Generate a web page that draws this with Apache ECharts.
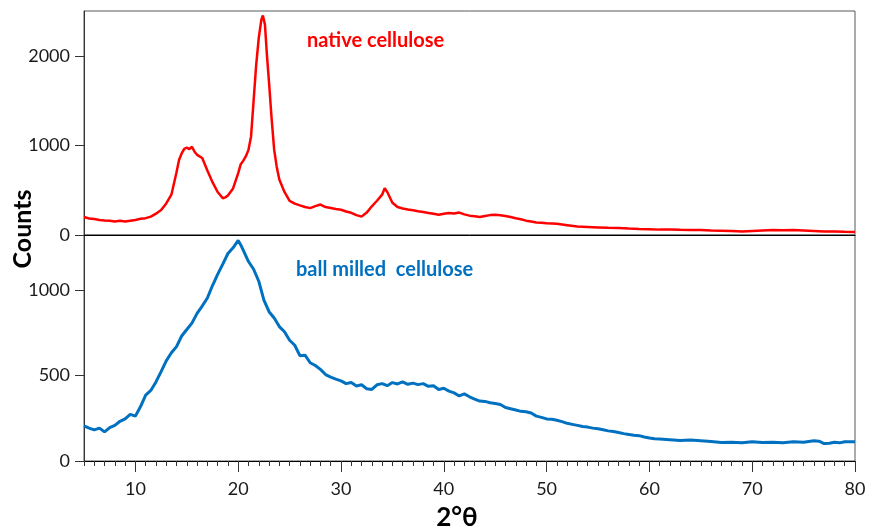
<!DOCTYPE html>
<html>
<head>
<meta charset="utf-8">
<script src="https://cdn.jsdelivr.net/npm/echarts@6/dist/echarts.min.js"></script>
<style>html,body{margin:0;padding:0;background:#fff;}#c{width:875px;height:531px;}</style>
</head>
<body>
<div id="c"></div>
<script>
var nativeX = [5.0,5.5,6.0,6.5,7.0,7.5,8.0,8.5,9.0,9.5,10.0,10.5,11.0,11.5,12.0,12.5,13.0,13.5,14.0,14.25,14.5,14.75,15.0,15.25,15.5,15.75,16.0,16.5,17.0,17.5,18.0,18.5,18.75,19.0,19.5,20.0,20.25,20.5,20.75,21.0,21.25,21.5,21.75,22.0,22.25,22.4,22.6,22.8,23.0,23.25,23.5,23.75,24.0,24.5,25.0,25.5,26.0,26.5,27.0,27.5,28.0,28.5,29.0,29.5,30.0,30.5,31.0,31.5,32.0,32.5,33.0,33.5,34.0,34.25,34.5,35.0,35.5,36.0,36.5,37.0,37.5,38.0,38.5,39.0,39.5,40.0,40.5,41.0,41.5,42.0,42.5,43.0,43.5,44.0,44.5,45.0,45.5,46.0,46.5,47.0,47.5,48.0,48.5,49.0,49.5,50.0,51.0,52.0,53.0,54.0,55.0,56.0,57.0,58.0,59.0,60.0,61.0,62.0,63.0,64.0,65.0,66.0,67.0,68.0,69.0,70.0,71.0,72.0,73.0,74.0,75.0,76.0,77.0,78.0,79.0,80.0];
var nativeY = [200,185,178,168,162,158,150,158,150,160,168,182,188,205,238,278,352,450,700,840,910,962,975,958,985,930,895,860,720,590,480,410,420,440,520,690,790,830,880,950,1100,1500,1900,2200,2400,2450,2350,2000,1700,1300,950,760,620,480,380,350,330,312,300,322,340,312,302,290,282,262,248,222,205,250,320,382,450,522,480,360,312,296,285,276,265,256,246,236,226,236,246,240,250,230,216,210,200,212,222,226,220,212,200,186,176,160,150,140,136,130,125,110,95,90,85,80,78,72,68,65,60,62,58,55,55,50,48,45,40,45,50,55,52,55,50,45,40,38,35,33];
var milledX = [5.0,5.5,6.0,6.5,7.0,7.5,8.0,8.5,9.0,9.5,10.0,10.5,11.0,11.5,12.0,12.5,13.0,13.5,14.0,14.5,15.0,15.5,16.0,16.5,17.0,17.5,18.0,18.5,19.0,19.5,20.0,20.25,20.5,21.0,21.5,22.0,22.5,23.0,23.5,24.0,24.5,25.0,25.5,26.0,26.5,27.0,27.5,28.0,28.5,29.0,29.5,30.0,30.5,31.0,31.5,32.0,32.5,33.0,33.5,34.0,34.5,35.0,35.5,36.0,36.5,37.0,37.5,38.0,38.5,39.0,39.5,40.0,40.5,41.0,41.5,42.0,42.5,43.0,43.5,44.0,44.5,45.0,45.5,46.0,46.5,47.0,47.5,48.0,48.5,49.0,49.5,50.0,50.5,51.0,51.5,52.0,52.5,53.0,53.5,54.0,54.5,55.0,55.5,56.0,56.5,57.0,57.5,58.0,58.5,59.0,59.5,60.0,60.5,61.0,62.0,63.0,64.0,65.0,66.0,67.0,68.0,69.0,70.0,71.0,72.0,73.0,74.0,75.0,76.0,76.5,77.0,77.5,78.0,78.5,79.0,80.0];
var milledY = [205,192,182,192,170,195,208,232,246,272,262,318,385,412,462,522,585,632,668,730,768,805,862,905,952,1025,1090,1150,1212,1245,1288,1262,1230,1165,1120,1050,940,872,835,785,755,705,676,615,618,574,558,535,505,490,478,468,452,458,438,445,422,418,445,452,440,458,450,462,448,455,446,452,436,440,418,425,408,398,380,392,375,362,350,348,340,336,330,312,305,298,290,288,280,262,255,246,244,238,230,220,214,208,202,198,192,188,182,176,172,166,160,155,150,148,140,134,130,128,124,120,122,118,114,108,110,106,112,108,110,106,112,110,118,116,102,104,110,106,112,113];
var xMajorTicks = [10,20,30,40,50,60,70,80];
var nativeTicks = [0,1000,2000];
var milledTicks = [0,500,1000];

function pairs(xs, ys){ return xs.map(function(x,i){ return [x, ys[i]]; }); }
function plain(v){ return String(v); }

var FONT = 'Lato';
var chart = echarts.init(document.getElementById('c'), null, {renderer:'canvas'});
chart.setOption({
  animation:false,
  backgroundColor:'#ffffff',
  grid:[
    {left:84, width:771, top:11, height:224, show:true, borderColor:'#595959', borderWidth:1, backgroundColor:'transparent'},
    {left:84, width:771, top:235, height:226, show:true, borderColor:'#595959', borderWidth:1, backgroundColor:'transparent'}
  ],
  xAxis:[
    {gridIndex:0, type:'value', position:'bottom', min:5, max:80, axisLine:{show:true, onZero:false, lineStyle:{color:'#000', width:1}}, axisTick:{show:false}, axisLabel:{show:false}, splitLine:{show:false}},
    {gridIndex:1, type:'value', position:'bottom', min:5, max:80, axisLine:{show:true, onZero:false, lineStyle:{color:'#000', width:1}},
     axisTick:{show:true, inside:false, length:11, customValues:xMajorTicks, lineStyle:{color:'#333'}},
     axisLabel:{show:true, margin:19, customValues:xMajorTicks, formatter:plain, fontFamily:FONT, fontSize:18, color:'#1a1a1a'},
     splitLine:{show:false}},
    {gridIndex:1, type:'value', position:'bottom', offset:0, min:5, max:80, interval:1, axisLine:{show:false, onZero:false}, axisTick:{show:true, length:5, lineStyle:{color:'#333'}}, axisLabel:{show:false}, splitLine:{show:false}}
  ],
  yAxis:[
    {gridIndex:0, type:'value', min:0, max:2500, axisLine:{show:true, lineStyle:{color:'#333'}},
     axisTick:{show:true, length:9, customValues:nativeTicks, lineStyle:{color:'#333'}},
     axisLabel:{show:true, margin:14, customValues:nativeTicks, formatter:plain, fontFamily:FONT, fontSize:18, color:'#1a1a1a'},
     splitLine:{show:false}},
    {gridIndex:1, type:'value', min:0, max:1320, axisLine:{show:true, lineStyle:{color:'#333'}},
     axisTick:{show:true, length:9, customValues:milledTicks, lineStyle:{color:'#333'}},
     axisLabel:{show:true, margin:14, customValues:milledTicks, formatter:plain, fontFamily:FONT, fontSize:18, color:'#1a1a1a'},
     splitLine:{show:false}}
  ],
  series:[
    {name:'native cellulose', type:'line', xAxisIndex:0, yAxisIndex:0, data:pairs(nativeX,nativeY), showSymbol:false, smooth:false, lineStyle:{color:'#ff0000', width:2.5}, z:3},
    {name:'ball milled  cellulose', type:'line', xAxisIndex:1, yAxisIndex:1, data:pairs(milledX,milledY), showSymbol:false, smooth:false, lineStyle:{color:'#0070c0', width:3}, z:3}
  ],
  graphic:[
    {type:'text', x:307, y:41, style:{text:'native cellulose', fill:'#ff0000', font:'bold 20px Lato', textVerticalAlign:'middle', textAlign:'left'}},
    {type:'text', x:296, y:270, style:{text:'ball milled  cellulose', fill:'#0070c0', font:'bold 20px Lato', textVerticalAlign:'middle', textAlign:'left'}},
    {type:'text', x:457, y:518, style:{text:'2°θ', fill:'#000', font:'bold 26px Lato', textVerticalAlign:'middle', textAlign:'center'}},
    {type:'text', x:23, y:229, rotation:Math.PI/2, style:{text:'Counts', fill:'#000', font:'bold 25px Lato', textVerticalAlign:'middle', textAlign:'center'}}
  ]
});
</script>
</body>
</html>
